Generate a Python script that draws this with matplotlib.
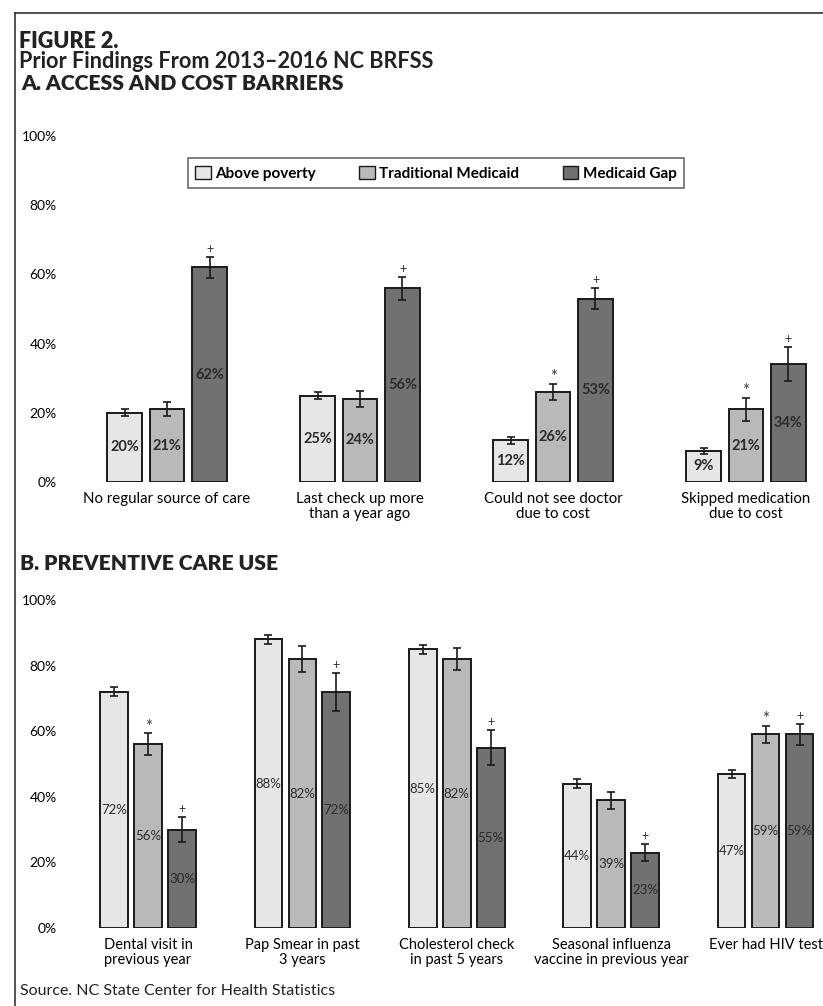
# Figure 2: access barriers and preventive care use by income group
from matplotlib import pyplot as plt
from matplotlib.patches import Patch
from matplotlib.lines import Line2D
import numpy as np

plt.rcParams['font.family'] = ['Lato', 'DejaVu Sans']

# Datos
# ========================================
grupos = ["Above poverty", "Traditional Medicaid", "Medicaid Gap"]
colores = ["#e6e6e6", "#b9b9b9", "#717171"]

cat_a = ["No regular source of care", "Last check up more\nthan a year ago",
         "Could not see doctor\ndue to cost", "Skipped medication\ndue to cost"]
above_a = [20, 25, 12, 9]
trad_a = [21, 24, 26, 21]
gap_a = [62, 56, 53, 34]
above_a_err = [1.0, 1.1, 1.0, 0.9]
trad_a_err = [2.0, 2.3, 2.3, 3.3]
gap_a_err = [3.0, 3.3, 3.0, 4.9]
trad_a_sig = ["", "", "*", "*"]
gap_a_sig = ["+", "+", "+", "+"]

cat_b = ["Dental visit in\nprevious year", "Pap Smear in past\n3 years",
         "Cholesterol check\nin past 5 years",
         "Seasonal influenza\nvaccine in previous year", "Ever had HIV test"]
above_b = [72, 88, 85, 44, 47]
trad_b = [56, 82, 82, 39, 59]
gap_b = [30, 72, 55, 23, 59]
above_b_err = [1.4, 1.4, 1.4, 1.3, 1.2]
trad_b_err = [3.4, 4.0, 3.3, 2.6, 2.7]
gap_b_err = [3.7, 5.8, 5.3, 2.7, 3.2]
trad_b_sig = ["*", "", "", "", "*"]
gap_b_sig = ["+", "+", "+", "+", "+"]

yticks = [0, 20, 40, 60, 80, 100]

W, H = 823, 1006
fig = plt.figure(figsize=(W / 100, H / 100), dpi=100)


def px(x0, y0, x1, y1):
    # rectangle in pixels (top-left origin) -> figure fraction
    return [x0 / W, 1 - y1 / H, (x1 - x0) / W, (y1 - y0) / H]


def panel(ax, cats, series, errs, sigs, xlim, lblsize, lblweight, xfs):
    x = np.arange(len(cats))
    pitch, width = 0.22, 0.18
    for k in range(3):
        xs = x + (k - 1) * pitch
        ax.bar(xs, series[k], width, color=colores[k], edgecolor="#1a1a1a",
               linewidth=1.4, zorder=2)
        ax.errorbar(xs, series[k], yerr=errs[k], fmt="none", ecolor="#1a1a1a",
                    elinewidth=1.2, capsize=3, capthick=1.2, zorder=3)
        for xi, v, e in zip(xs, series[k], errs[k]):
            ax.text(xi, v / 2, f"{v}%", ha="center", va="center",
                    fontsize=lblsize, fontweight=lblweight, color="#2b2b2b",
                    zorder=4)
        if sigs[k] is not None:
            for xi, v, e, s in zip(xs, series[k], errs[k], sigs[k]):
                if s == "*":
                    ax.annotate(s, (xi, v + e), xytext=(0, -1),
                                textcoords="offset points", ha="center",
                                va="bottom", fontsize=12, color="#333333")
                elif s:
                    ax.annotate(s, (xi, v + e), xytext=(0, 1.5),
                                textcoords="offset points", ha="center",
                                va="bottom", fontsize=9, color="#333333")
    ax.set_xlim(*xlim)
    ax.set_ylim(0, 100)
    ax.set_yticks(yticks)
    ax.set_yticklabels([f"{t}%" for t in yticks], fontsize=10)
    ax.set_xticks(x)
    ax.set_xticklabels(cats, fontsize=xfs, linespacing=1.15)
    ax.tick_params(axis="y", length=0, pad=13)
    ax.tick_params(axis="x", length=0, pad=7)
    for s in ax.spines.values():
        s.set_visible(False)
    ax.patch.set_alpha(0)


# Panel A
# ========================================
ax1 = fig.add_axes(px(75, 136, 823, 482))
panel(ax1, cat_a, [above_a, trad_a, gap_a], [above_a_err, trad_a_err, gap_a_err],
      [None, trad_a_sig, gap_a_sig], (-0.477, 3.399), 10.5, "bold", 10.8)

handles = [Patch(facecolor=c, edgecolor="#1a1a1a", linewidth=1.0) for c in colores]
leg = ax1.legend(handles, grupos, ncol=3, mode="expand", loc="lower left",
                 bbox_to_anchor=(180 / W, 1 - 196 / H, 512 / W, 33 / H),
                 bbox_transform=fig.transFigure, frameon=True, fancybox=False,
                 edgecolor="#444444", handlelength=1.0, handleheight=1.0,
                 handletextpad=0.3, borderpad=0.5,
                 prop={"size": 11, "weight": "bold"})
leg.get_frame().set_linewidth(1.2)

# Panel B
# ========================================
ax2 = fig.add_axes(px(75, 600, 823, 928))
panel(ax2, cat_b, [above_b, trad_b, gap_b], [above_b_err, trad_b_err, gap_b_err],
      [None, trad_b_sig, gap_b_sig], (-0.473, 4.372), 9.5, "normal", 10.5)

# Textos
# ========================================
fig.text(19 / W, 1 - 41 / H, "FIGURE 2.", fontsize=15.5, fontweight="heavy",
         va="center", color="#222222")
fig.text(19 / W, 1 - 61 / H, "Prior Findings From 2013–2016 NC BRFSS",
         fontsize=15.6, fontweight="bold", va="center", color="#222222")
fig.text(21 / W, 1 - 84 / H, "A. ACCESS AND COST BARRIERS", fontsize=15.2,
         fontweight="heavy", va="center", color="#222222")
fig.text(20 / W, 1 - 564 / H, "B. PREVENTIVE CARE USE", fontsize=15.2,
         fontweight="heavy", va="center", color="#222222")
fig.text(20 / W, 1 - 991 / H, "Source. NC State Center for Health Statistics",
         fontsize=11.5, va="center", color="#222222")

# marco superior e izquierdo
fig.add_artist(Line2D([15 / W, 1], [1 - 13 / H, 1 - 13 / H], color="#333333",
                      linewidth=1.2))
fig.add_artist(Line2D([15 / W, 15 / W], [1 - 13 / H, 0], color="#333333",
                      linewidth=1.2))

fig.savefig("out.png", dpi=100)
